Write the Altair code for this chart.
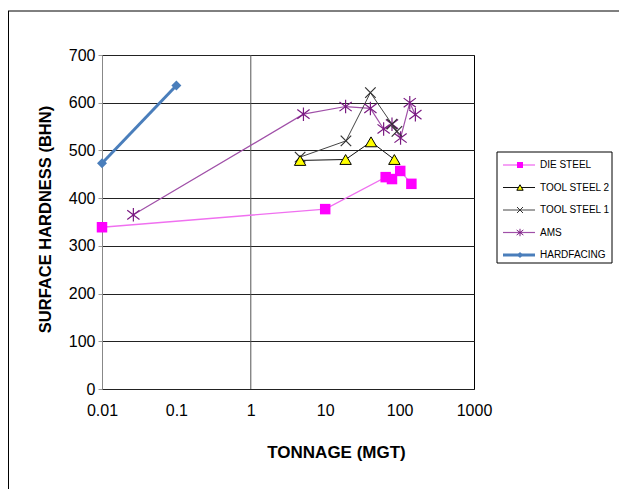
import altair as alt
import pandas as pd

# ---- data ----
series_names = ["DIE STEEL", "TOOL STEEL 2", "TOOL STEEL 1", "AMS", "HARDFACING"]

die_x = [0.01, 10, 65, 79, 102, 144]
die_y = [339, 377, 444, 440, 457, 430]

ts2_x = [4.6, 18.8, 41.3, 85]
ts2_y = [479, 481, 518, 481]

ts1_x = [4.6, 19, 40.5, 79, 92]
ts1_y = [486, 520, 621, 555, 540]

ams_x = [0.0264, 5.1, 18.8, 40.5, 61, 79, 103, 137, 163]
ams_y = [365, 576, 592, 588, 545, 555, 526, 600, 575]

hf_x = [0.01, 0.1]
hf_y = [473, 636]

x_ticks = [0.01, 0.1, 1, 10, 100, 1000]
y_ticks = [0, 100, 200, 300, 400, 500, 600, 700]

FONT = "Liberation Sans"

X_PATH = "M-1,-1L1,1M-1,1L1,-1"
AST_PATH = "M-1,-0.75L1,0.75M-1,0.75L1,-0.75M0,-1.1L0,1.1"

styles = {
    "DIE STEEL": dict(line=dict(color="#f070f0", strokeWidth=1.3),
                      pt=dict(shape="square", size=110, filled=True, color="#ff00ff", opacity=1),
                      lpt=dict(shape="square", size=36, filled=True, color="#ff00ff", opacity=1)),
    "TOOL STEEL 2": dict(line=dict(color="#111111", strokeWidth=1),
                         pt=dict(shape="triangle-up", size=130, filled=True, fill="#ffff00", stroke="#000000", strokeWidth=1, opacity=1),
                         lpt=dict(shape="triangle-up", size=40, filled=True, fill="#ffff00", stroke="#000000", strokeWidth=1, opacity=1)),
    "TOOL STEEL 1": dict(line=dict(color="#444444", strokeWidth=1),
                         pt=dict(shape=X_PATH, size=110, filled=False, stroke="#333333", strokeWidth=1.2, opacity=1),
                         lpt=dict(shape=X_PATH, size=36, filled=False, stroke="#333333", strokeWidth=1, opacity=1)),
    "AMS": dict(line=dict(color="#a050a8", strokeWidth=1.2),
                pt=dict(shape=AST_PATH, size=150, filled=False, stroke="#7a1a82", strokeWidth=1.2, opacity=1),
                lpt=dict(shape=AST_PATH, size=45, filled=False, stroke="#7a1a82", strokeWidth=1, opacity=1)),
    "HARDFACING": dict(line=dict(color="#4a7ebb", strokeWidth=3),
                       pt=dict(shape="diamond", size=100, filled=True, color="#4a7ebb", opacity=1),
                       lpt=dict(shape="diamond", size=36, filled=True, color="#4a7ebb", opacity=1)),
}

data = {
    "DIE STEEL": (die_x, die_y),
    "TOOL STEEL 2": (ts2_x, ts2_y),
    "TOOL STEEL 1": (ts1_x, ts1_y),
    "AMS": (ams_x, ams_y),
    "HARDFACING": (hf_x, hf_y),
}

X = alt.X("t:Q",
          scale=alt.Scale(type="log", domain=[0.01, 1000], nice=False, padding=0),
          axis=alt.Axis(values=x_ticks, format="~g", title="TONNAGE (MGT)",
                        grid=False, ticks=False, domain=False, labelFlush=False,
                        labelFontSize=16, labelColor="#000", labelPadding=13,
                        titleFontSize=17, titleFontWeight="bold", titleColor="#000",
                        titleX=234, titleY=63, titleBaseline="middle"))
Y = alt.Y("h:Q",
          scale=alt.Scale(domain=[0, 700], nice=False, padding=0),
          axis=alt.Axis(values=y_ticks, title="SURFACE HARDNESS (BHN)",
                        grid=True, gridColor="#222222", gridWidth=1,
                        ticks=True, tickSize=4, tickColor="#999999",
                        domain=True, domainColor="#888888", labelFlush=False,
                        labelFontSize=16, labelColor="#000", labelPadding=3,
                        titleFontSize=16.5, titleFontWeight="bold", titleColor="#000",
                        titleX=-57, titleY=164, titleAngle=270,
                        titleBaseline="middle", titleAlign="center"))

# vertical grid line at 1
vline = alt.Chart(pd.DataFrame({"t": [1]})).mark_rule(color="#555555", strokeWidth=1).encode(x=X)

line_layers = []
point_layers = []
draw_order = ["AMS", "TOOL STEEL 1", "TOOL STEEL 2", "DIE STEEL", "HARDFACING"]
for name in draw_order:
    xs, ys = data[name]
    d = pd.DataFrame({"t": xs, "h": ys})
    st = styles[name]
    line_layers.append(alt.Chart(d).mark_line(**st["line"]).encode(x=X, y=Y))
    point_layers.append(alt.Chart(d).mark_point(**st["pt"]).encode(x=X, y=Y))

main = alt.layer(vline, *line_layers, *point_layers)

# ---- legend ----
legend_df = pd.DataFrame({"row": list(range(len(series_names))), "name": series_names})
LY = alt.Y("row:Q", scale=alt.Scale(domain=[0, 4], range=[110, 200]), axis=None)

box = alt.Chart(pd.DataFrame({"a": [0]})).mark_rect(fill="white", stroke="#000000", strokeWidth=1).encode(
    x=alt.value(395), x2=alt.value(510), y=alt.value(97), y2=alt.value(208))

leg_layers = [box]
for name in series_names:
    st = styles[name]
    ld = legend_df[legend_df["name"] == name]
    leg_layers.append(alt.Chart(ld).mark_rule(**st["line"]).encode(
        x=alt.value(401), x2=alt.value(433), y=LY))
for name in series_names:
    st = styles[name]
    ld = legend_df[legend_df["name"] == name]
    leg_layers.append(alt.Chart(ld).mark_point(**st["lpt"]).encode(x=alt.value(418), y=LY))
leg_text = alt.Chart(legend_df).mark_text(align="left", baseline="middle", fontSize=10,
                                          font=FONT, color="#000").encode(
    x=alt.value(438), y=LY, text="name:N")
leg_layers.append(leg_text)
legend = alt.layer(*leg_layers)

# outer chart border (top and left visible)
frame_l = alt.Chart(pd.DataFrame({"a": [0]})).mark_rule(color="#000", strokeWidth=1).encode(
    x=alt.value(-93.5), y=alt.value(-44), y2=alt.value(470))
frame_t = alt.Chart(pd.DataFrame({"a": [0]})).mark_rule(color="#000", strokeWidth=1).encode(
    x=alt.value(-97), x2=alt.value(560), y=alt.value(-44))
frame = alt.layer(frame_l, frame_t)

chart = alt.layer(main, legend, frame).resolve_scale(y="independent").properties(
    width=372, height=334,
    autosize=alt.AutoSizeParams(type="none"),
    padding={"left": 94, "top": 47, "right": 145, "bottom": 100},
).configure(font=FONT).configure_view(stroke="#000000", strokeWidth=1)

chart.save("out.html", embed_options={"renderer": "svg", "actions": False})
